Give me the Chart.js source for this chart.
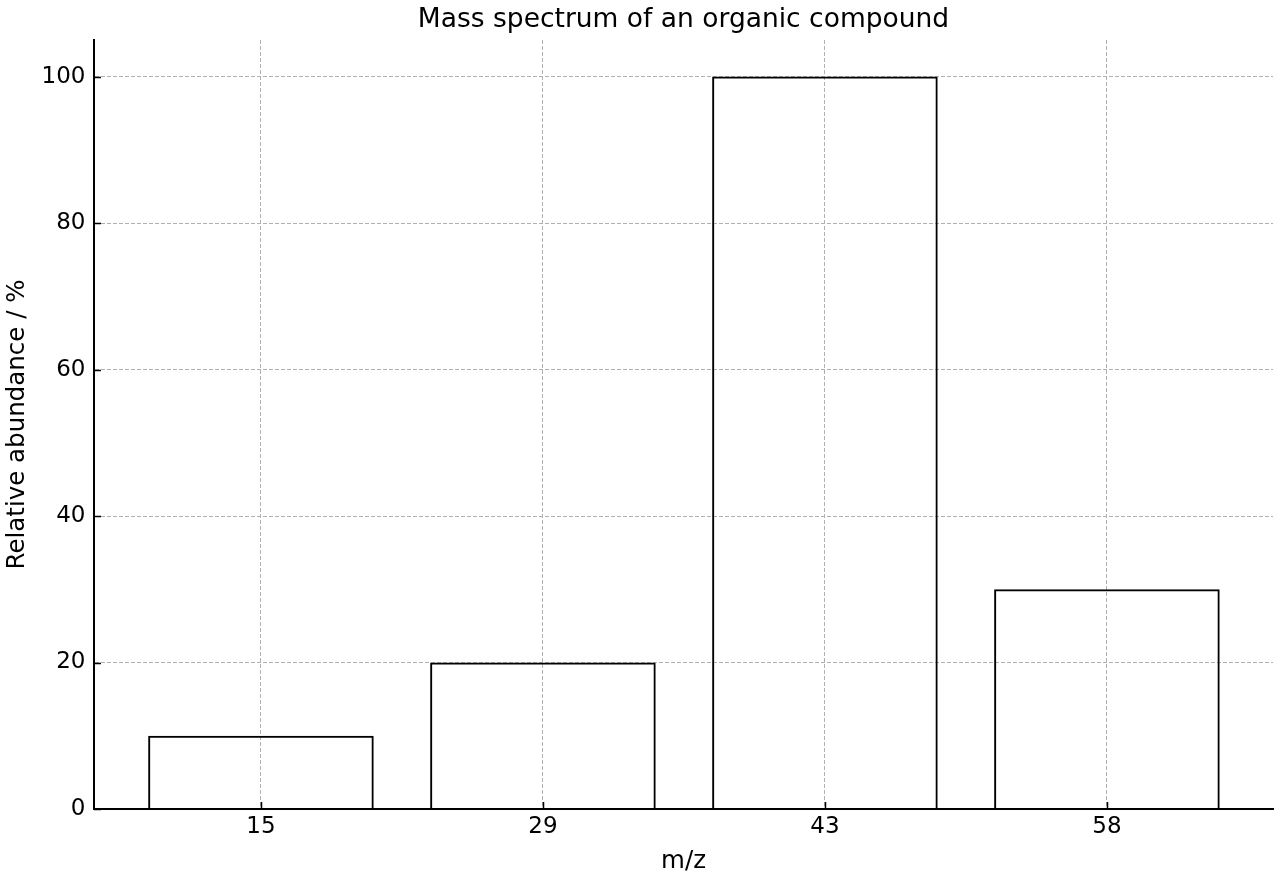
<!DOCTYPE html>
<html>
<head>
<meta charset="utf-8">
<script src="https://cdn.jsdelivr.net/npm/chart.js@4.4.1/dist/chart.umd.min.js"></script>
<style>
  html, body { margin: 0; padding: 0; background: #fff; }
  canvas { display: block; }
</style>
</head>
<body>
<canvas id="massChart" width="1280" height="880"></canvas>
<script>
var mzLabels = ["15", "29", "43", "58"];
var abundance = [10, 20, 100, 30];
var yTicks = [0, 20, 40, 60, 80, 100];

var font = "'DejaVu Sans', sans-serif";

// ticks pointing inward, like the matplotlib style
var innerTicks = {
  id: "innerTicks",
  afterLayout: function (chart) {
    // centre the title over the plot area, not the whole canvas
    var t = chart.titleBlock;
    t.left = chart.chartArea.left;
    t.right = chart.chartArea.right;
    t.width = t.right - t.left;
  },
  afterDraw: function (chart) {
    var c = chart.ctx;
    var x = chart.scales.x, y = chart.scales.y;
    c.save();
    c.strokeStyle = "#000";
    c.lineWidth = 1.5;
    c.beginPath();
    x.ticks.forEach(function (t) {
      var px = Math.round(x.getPixelForValue(t.value)) + 0.5;
      c.moveTo(px, y.bottom);
      c.lineTo(px, y.bottom - 7);
    });
    y.ticks.forEach(function (t) {
      var py = Math.round(y.getPixelForValue(t.value)) + 0.5;
      c.moveTo(x.left, py);
      c.lineTo(x.left + 7, py);
    });
    c.stroke();
    c.restore();
  }
};

var ctx = document.getElementById("massChart").getContext("2d");
var chart = new Chart(ctx, {
  type: "bar",
  data: {
    datasets: [
      {
        data: abundance.map(function (v, i) { return { x: i, y: v }; }),
        backgroundColor: "rgba(255,255,255,0)",
        borderColor: "#000",
        borderWidth: 2,
        borderSkipped: "bottom",
        barPercentage: 0.8,
        categoryPercentage: 1.0,
      },
    ],
  },
  options: {
    responsive: false,
    devicePixelRatio: 1,
    animation: false,
    layout: { padding: { left: 0, right: 7, top: 0, bottom: 0 } },
    plugins: {
      legend: { display: false },
      tooltip: { enabled: false },
      title: {
        display: true,
        text: "Mass spectrum of an organic compound",
        color: "#000",
        font: { family: font, size: 26.5, weight: "normal" },
        padding: { top: 4, bottom: 4.2 },
      },
    },
    scales: {
      x: {
        type: "linear",
        offset: false,
        min: -0.592,
        max: 3.589,
        afterBuildTicks: function (scale) {
          scale.ticks = mzLabels.map(function (l, i) { return { value: i }; });
        },
        afterFit: function (scale) { scale.height = 71; },
        ticks: {
          color: "#000",
          font: { family: font, size: 23 },
          padding: 4.5,
          maxRotation: 0,
          callback: function (v) { return mzLabels[v]; },
        },
        grid: { color: "#b0b0b0", lineWidth: 1, drawTicks: false, offset: false },
        border: { display: true, color: "#000", width: 2, dash: [4, 2] },
        title: {
          display: true,
          text: "m/z",
          color: "#000",
          font: { family: font, size: 24.5 },
          padding: { top: 0, bottom: 4 },
        },
      },
      y: {
        min: 0,
        max: 105,
        afterBuildTicks: function (scale) {
          scale.ticks = yTicks.map(function (v) { return { value: v }; });
        },
        afterFit: function (scale) { scale.width = 94; },
        ticks: {
          color: "#000",
          font: { family: font, size: 23 },
          padding: 8.5,
        },
        grid: { color: "#b0b0b0", lineWidth: 1, drawTicks: false },
        border: { display: true, color: "#000", width: 2, dash: [4, 2] },
        title: {
          display: true,
          text: "Relative abundance / %",
          color: "#000",
          font: { family: font, size: 24.5 },
          padding: { top: 3, bottom: 0 },
        },
      },
    },
  },
  plugins: [innerTicks],
});
</script>
</body>
</html>
